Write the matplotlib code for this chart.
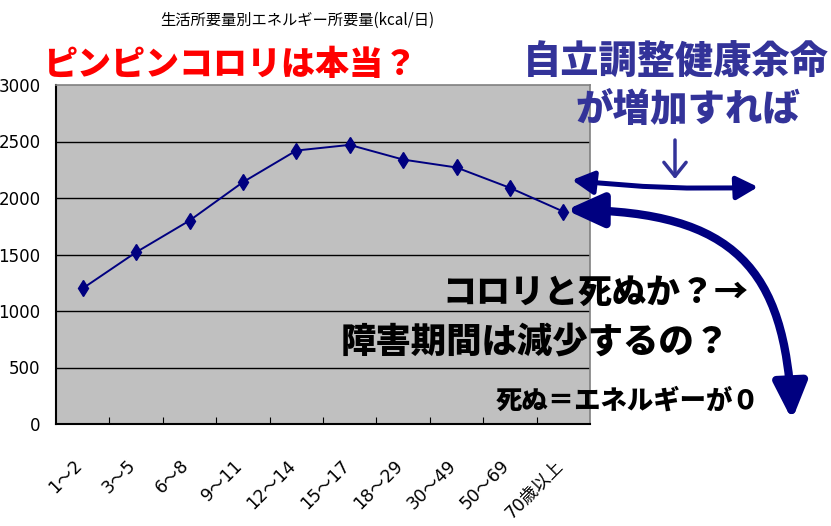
import matplotlib.pyplot as plt
from matplotlib.patches import FancyArrowPatch
from matplotlib.path import Path
import matplotlib.transforms as mtransforms

# data
age_groups = ['1～2', '3～5', '6～8', '9～11', '12～14', '15～17',
              '18～29', '30～49', '50～69', '70歳以上']
energy = [1200, 1520, 1800, 2140, 2420, 2470, 2340, 2270, 2090, 1880]
y_ticks = [0, 500, 1000, 1500, 2000, 2500, 3000]

W, H = 831, 526
CJK = 'Noto Sans CJK JP'
NARROW = ['DejaVu Sans', CJK]


def px(x, y):
    return (x / W, 1 - y / H)


fig = plt.figure(figsize=(W / 100, H / 100), dpi=100)
ax = fig.add_axes([56 / W, 1 - 424 / H, (590 - 56) / W, (424 - 85) / H])
ax.set_facecolor('#c0c0c0')

xs = range(len(age_groups))
ax.plot(xs, energy, color='#000080', lw=1.4, marker='d', markersize=8,
        markerfacecolor='#000080', markeredgecolor='#000080', zorder=3)

ax.set_xlim(-0.5, len(age_groups) - 0.5)
ax.set_ylim(0, 3000)
ax.set_yticks(y_ticks)
ax.set_yticklabels([str(v) for v in y_ticks], family=NARROW, fontsize=12)
for v in y_ticks[1:-1]:
    ax.axhline(v, color='black', lw=1, zorder=1)

# category boundary ticks (inside) and labels at the centres
ax.set_xticks([i + 0.5 for i in range(len(age_groups) - 1)])
ax.set_xticklabels([])
ax.tick_params(axis='x', which='major', direction='in', length=5, color='black')
ax.set_xticks(list(xs), minor=True)
ax.set_xticklabels(age_groups, minor=True, family=NARROW, fontsize=12.5,
                   rotation=45, ha='right', va='center', rotation_mode='anchor')
ax.tick_params(axis='x', which='minor', length=0, pad=28)
offset = mtransforms.ScaledTranslation(-3 / 100, 0, fig.dpi_scale_trans)
for lab in ax.xaxis.get_minorticklabels():
    lab.set_transform(lab.get_transform() + offset)
ax.tick_params(axis='y', length=0, pad=11)

for s in ['left', 'bottom']:
    ax.spines[s].set_color('black')
    ax.spines[s].set_linewidth(1.5)
for s in ['top', 'right']:
    ax.spines[s].set_color('#808080')
    ax.spines[s].set_linewidth(1.2)

# texts
fig.text(*px(297, 20), '生活所要量別エネルギー所要量(kcal/日)', family=CJK,
         fontsize=11, ha='center', va='center')
fig.text(*px(230, 64), 'ピンピンコロリは本当？', family=CJK, fontweight='heavy',
         fontsize=24.5, color='#ff0000', ha='center', va='center')
fig.text(*px(676, 63), '自立調整健康余命', family=CJK, fontweight='heavy',
         fontsize=27.5, color='#333399', ha='center', va='center')
fig.text(*px(688, 110), 'が増加すれば', family=CJK, fontweight='heavy',
         fontsize=27, color='#333399', ha='center', va='center')
fig.text(*px(595, 292), 'コロリと死ぬか？→', family=CJK, fontweight='heavy',
         fontsize=24.5, color='black', ha='center', va='center')
fig.text(*px(535, 342), '障害期間は減少するの？', family=CJK, fontweight='heavy',
         fontsize=25.5, color='black', ha='center', va='center')
fig.text(*px(628, 400), '死ぬ＝エネルギーが０', family=CJK, fontweight='heavy',
         fontsize=19, color='black', ha='center', va='center')

# small down arrow
fig.patches.append(FancyArrowPatch(px(675, 140), px(675, 179),
                                   transform=fig.transFigure,
                                   arrowstyle='->,head_length=10,head_width=8',
                                   color='#333399', lw=2.5, mutation_scale=1,
                                   shrinkA=0, shrinkB=0))
# double-headed arrow
fig.patches.append(FancyArrowPatch(px(572, 180), px(758, 187),
                                   transform=fig.transFigure,
                                   connectionstyle='arc3,rad=0.04',
                                   arrowstyle='<|-|>,head_length=13,head_width=7',
                                   color='#000080', lw=3.6, mutation_scale=1,
                                   shrinkA=0, shrinkB=0))
# big curved arrow
verts = [px(566, 210), px(735, 211), px(785, 270), px(792, 420)]
path = Path(verts, [Path.MOVETO, Path.CURVE4, Path.CURVE4, Path.CURVE4])
fig.patches.append(FancyArrowPatch(path=path, transform=fig.transFigure,
                                   arrowstyle='<|-|>,head_length=22,head_width=10',
                                   color='#000080', lw=6, mutation_scale=1))

fig.savefig('out.png', dpi=100)
